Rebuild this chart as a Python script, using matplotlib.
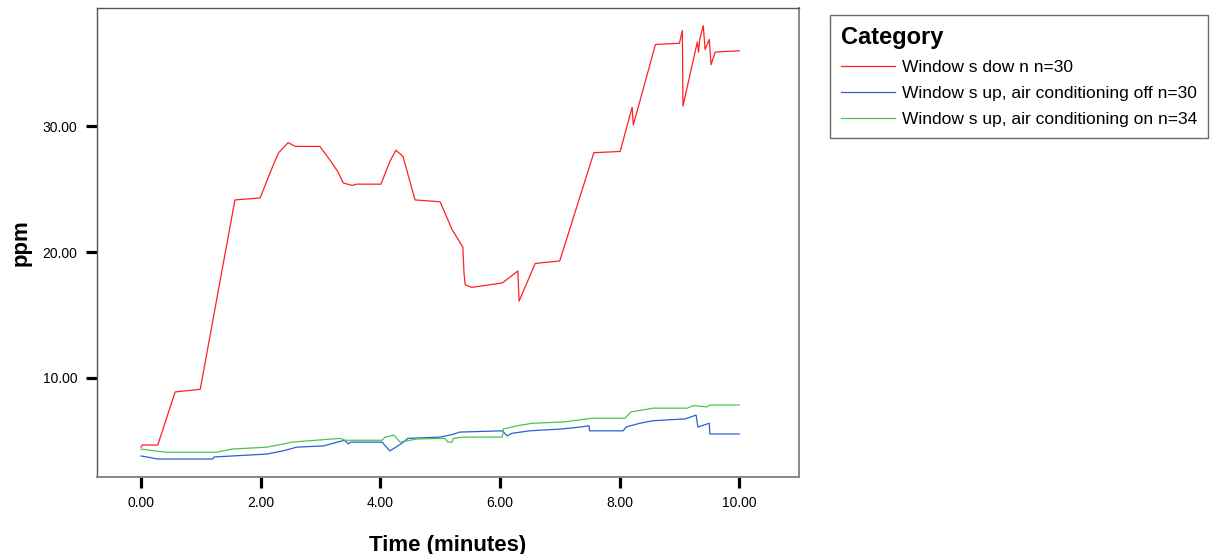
import matplotlib
matplotlib.use('Agg')
import matplotlib.pyplot as plt

plt.rcParams['font.family'] = ['Liberation Sans', 'DejaVu Sans']

# Series (time in minutes, ppm)
down_t = [0, 0.02, 0.28, 0.57, 0.99, 1.57, 1.99, 2.2, 2.3, 2.46, 2.58, 2.99, 3.16, 3.29, 3.38, 3.53, 3.6,
          4.01, 4.16, 4.26, 4.38, 4.58, 5.0, 5.2, 5.38, 5.4, 5.42, 5.53, 6.04, 6.30, 6.32, 6.59, 7.0,
          7.57, 8.01, 8.21, 8.23, 8.6, 9.0, 9.05, 9.06, 9.3, 9.32, 9.34, 9.4, 9.43, 9.5, 9.53, 9.6, 10.0]
down_v = [4.5, 4.67, 4.67, 8.89, 9.1, 24.15, 24.3, 26.8, 27.9, 28.7, 28.4, 28.4, 27.3, 26.4, 25.5, 25.3, 25.4,
          25.4, 27.2, 28.1, 27.6, 24.15, 24.0, 21.8, 20.4, 18.3, 17.4, 17.2, 17.55, 18.5, 16.1, 19.1, 19.3,
          27.9, 28.0, 31.5, 30.1, 36.5, 36.6, 37.6, 31.6, 36.7, 35.9, 36.9, 38.0, 36.1, 36.9, 34.9, 35.9, 36.0]

acoff_t = [0, 0.1, 0.27, 1.2, 1.22, 1.52, 2.1, 2.37, 2.6, 3.05, 3.4, 3.47, 3.5, 4.03, 4.16, 4.36, 4.46,
           5.0, 5.2, 5.33, 6.04, 6.12, 6.2, 6.5, 7.04, 7.34, 7.49, 7.5, 8.06, 8.11, 8.34, 8.56, 9.1,
           9.28, 9.31, 9.5, 9.51, 10.0]
acoff_v = [3.8, 3.72, 3.56, 3.56, 3.72, 3.8, 3.95, 4.2, 4.5, 4.6, 5.05, 4.75, 4.9, 4.9, 4.2, 4.8, 5.2,
           5.3, 5.5, 5.7, 5.8, 5.4, 5.6, 5.8, 5.95, 6.1, 6.2, 5.8, 5.8, 6.1, 6.4, 6.6, 6.75,
           7.05, 6.1, 6.4, 5.55, 5.55]

acon_t = [0, 0.23, 0.43, 1.27, 1.52, 2.1, 2.37, 2.52, 3.19, 3.33, 3.41, 4.03, 4.08, 4.23, 4.33, 4.5, 4.61,
          5.08, 5.13, 5.2, 5.22, 5.37, 6.04, 6.06, 6.29, 6.54, 7.06, 7.54, 8.09, 8.19, 8.56, 9.13, 9.23,
          9.46, 9.51, 10.0]
acon_v = [4.35, 4.2, 4.1, 4.1, 4.35, 4.5, 4.75, 4.9, 5.15, 5.2, 5.05, 5.05, 5.3, 5.45, 4.9, 5.05, 5.15,
          5.2, 4.9, 4.9, 5.2, 5.3, 5.3, 5.95, 6.2, 6.4, 6.5, 6.8, 6.8, 7.3, 7.6, 7.6, 7.8,
          7.7, 7.85, 7.85]

labels = ['Window s dow n n=30',
          'Window s up, air conditioning off n=30',
          'Window s up, air conditioning on n=34']
colors = ['#ff2020', '#2c5fcf', '#4cc44c']
xticks = [0, 2, 4, 6, 8, 10]
yticks = [10, 20, 30]

fig = plt.figure(figsize=(12.13, 5.54), dpi=100)
ax = fig.add_axes([97 / 1213, 77 / 554, 702 / 1213, 469 / 554])

ax.plot(down_t, down_v, color=colors[0], lw=0.9, label=labels[0])
ax.plot(acoff_t, acoff_v, color=colors[1], lw=0.9, label=labels[1])
ax.plot(acon_t, acon_v, color=colors[2], lw=0.9, label=labels[2])

ax.set_xlim(-0.736, 11.0)
ax.set_ylim(2.13, 39.4)
ax.set_xticks(xticks)
ax.set_xticklabels(['%.2f' % t for t in xticks])
ax.set_yticks(yticks)
ax.set_yticklabels(['%.2f' % t for t in yticks])
ax.tick_params(axis='both', direction='out', length=8, width=2.3, color='black',
               labelsize=10, pad=6)

for side in ['top', 'left']:
    ax.spines[side].set_color('#555555')
    ax.spines[side].set_linewidth(1.0)
for side in ['bottom', 'right']:
    ax.spines[side].set_color('#888888')
    ax.spines[side].set_linewidth(1.4)

ax.set_xlabel('Time (minutes)', fontsize=16, fontweight='bold', labelpad=18)
ax.set_ylabel('ppm', fontsize=16, fontweight='bold', labelpad=8)

leg = ax.legend(loc='upper left', bbox_to_anchor=(830 / 1213, 1 - 15 / 554),
                bbox_transform=fig.transFigure, title='Category',
                title_fontproperties={'weight': 'bold', 'size': 17},
                alignment='left', fontsize=12.5, frameon=True, fancybox=False,
                edgecolor='#444444', handlelength=3.1, handletextpad=0.4,
                labelspacing=0.63, borderpad=0.62, borderaxespad=0)
leg.get_frame().set_linewidth(1.0)

fig.savefig('out.png', dpi=100)
